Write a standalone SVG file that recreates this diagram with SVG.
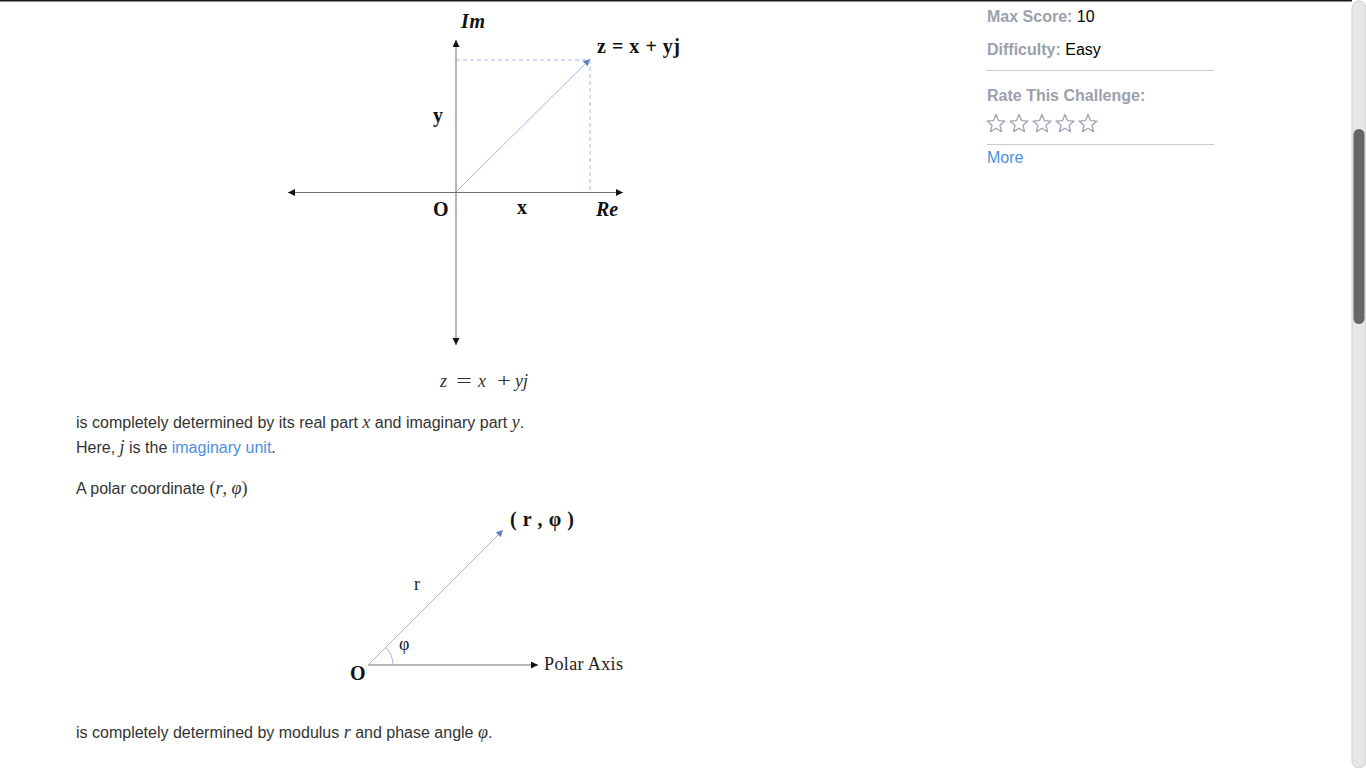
<svg xmlns="http://www.w3.org/2000/svg" xmlns:xlink="http://www.w3.org/1999/xlink" width="1366" height="768" viewBox="0 0 1366 768">
<style>
.axis{stroke:#6e6e6e;stroke-width:1;fill:none}
.vec{stroke:#a3b6e3;stroke-width:1;fill:none}
.dash{stroke:#a9b9e2;stroke-width:1;fill:none;stroke-dasharray:4 3}
.lbl{font-family:"Liberation Serif","DejaVu Serif",serif;font-weight:bold;font-size:20px;fill:#111}
.lbli{font-family:"Liberation Serif","DejaVu Serif",serif;font-weight:bold;font-style:italic;font-size:20px;fill:#111}
.reg{font-family:"Liberation Serif","DejaVu Serif",serif;font-size:18px;fill:#222}
.p{font-family:"Liberation Sans",Arial,sans-serif;font-size:16px;fill:#333}
.m{font-family:"Liberation Serif","DejaVu Serif",serif;font-style:italic;font-size:18px}
.mu{font-family:"Liberation Serif","DejaVu Serif",serif;font-size:18px}
.side{font-family:"Liberation Sans",Arial,sans-serif;font-size:16px;fill:#000}
.sideb{font-weight:bold;fill:#9ca0ab}
.link{fill:#4a90e2}
.hr{stroke:#c8ccd2;stroke-width:1}
.star{fill:none;stroke:#9ca3b0;stroke-width:1.3;stroke-linejoin:round}
</style>
<defs>
<marker id="ah" markerUnits="userSpaceOnUse" markerWidth="8" markerHeight="8" refX="7" refY="3.5" orient="auto">
<path d="M0,0 L7,3.5 L0,7 Z" fill="#111"/>
</marker>
<marker id="ab" markerUnits="userSpaceOnUse" markerWidth="8" markerHeight="8" refX="7" refY="3.5" orient="auto">
<path d="M0,0 L7,3.5 L0,7 Z" fill="#5a7ec8"/>
</marker>
<polygon id="star" points="0,-9.5 2.47,-3.4 9.04,-2.94 3.99,1.3 5.58,7.69 0,4.2 -5.58,7.69 -3.99,1.3 -9.04,-2.94 -2.47,-3.4"/>
</defs>
<rect width="1366" height="768" fill="#fff"/>
<rect x="0" y="0" width="1352" height="1.5" fill="#1a1a1a"/>

<g id="connectors">
<line class="axis" x1="456" y1="192.5" x2="623" y2="192.5" marker-end="url(#ah)"/>
<line class="axis" x1="456" y1="192.5" x2="288" y2="192.5" marker-end="url(#ah)"/>
<line class="axis" x1="456" y1="192.5" x2="456" y2="40" marker-end="url(#ah)"/>
<line class="axis" x1="456" y1="192.5" x2="456" y2="345" marker-end="url(#ah)"/>
<line class="dash" x1="456" y1="60" x2="590" y2="60"/>
<line class="dash" x1="590" y1="60" x2="590" y2="192"/>
<line class="vec" x1="456" y1="192" x2="590" y2="59" marker-end="url(#ab)"/>
<line class="axis" x1="368" y1="665" x2="538" y2="665" marker-end="url(#ah)"/>
<line class="vec" x1="368" y1="665" x2="503" y2="530" marker-end="url(#ab)"/>
<path class="vec" d="M393,665 A25,25 0 0 0 385.7,647.3"/>
</g>

<g id="cartesian-labels">
<text class="lbli" x="461" y="28" textLength="24">Im</text>
<text class="lbl" x="597" y="53" textLength="83" lengthAdjust="spacing">z = x + yj</text>
<text class="lbl" x="433" y="122">y</text>
<text class="lbl" x="433" y="216">O</text>
<text class="lbl" x="517" y="214">x</text>
<text class="lbli" x="596" y="216" font-size="21">Re</text>
</g>

<g id="caption" fill="#333">
<text class="m" x="440" y="387" font-size="21">z</text>
<text class="mu" x="456" y="387" font-size="22" textLength="16" lengthAdjust="spacingAndGlyphs">=</text>
<text class="m" x="478" y="387" font-size="21">x</text>
<text class="mu" x="497" y="387" font-size="22" textLength="14" lengthAdjust="spacingAndGlyphs">+</text>
<text class="m" x="515" y="387" font-size="21">yj</text>
</g>

<g id="paragraph1">
<text class="p" x="76" y="428">is completely determined by its real part <tspan class="m">x</tspan> and imaginary part <tspan class="m">y</tspan>.</text>
<text class="p" x="76" y="453">Here, <tspan class="m">j</tspan> is the <tspan class="link">imaginary unit</tspan>.</text>
<text class="p" x="76" y="494">A polar coordinate <tspan class="mu">(</tspan><tspan class="m">r</tspan><tspan class="mu">, </tspan><tspan class="m">φ</tspan><tspan class="mu">)</tspan></text>
</g>

<g id="polar-labels">
<text class="lbl" x="510" y="526" font-size="19" textLength="64" lengthAdjust="spacing">( r , φ )</text>
<text class="reg" x="414" y="590">r</text>
<text class="reg" x="399" y="650" font-size="17">φ</text>
<text class="lbl" x="350" y="680" font-size="19">O</text>
<text class="reg" x="544" y="670" textLength="79">Polar Axis</text>
</g>

<g id="paragraph2">
<text class="p" x="76" y="738">is completely determined by modulus <tspan class="m">r</tspan> and phase angle <tspan class="m">φ</tspan>.</text>
</g>

<g id="sidebar">
<text class="side" x="987" y="22"><tspan class="sideb">Max Score:</tspan> 10</text>
<text class="side" x="987" y="55"><tspan class="sideb">Difficulty:</tspan> Easy</text>
<line class="hr" x1="987" y1="70.5" x2="1214" y2="70.5"/>
<text class="side sideb" x="987" y="101">Rate This Challenge:</text>
<use xlink:href="#star" class="star" x="996" y="124"/>
<use xlink:href="#star" class="star" x="1019" y="124"/>
<use xlink:href="#star" class="star" x="1042" y="124"/>
<use xlink:href="#star" class="star" x="1065" y="124"/>
<use xlink:href="#star" class="star" x="1088" y="124"/>
<line class="hr" x1="987" y1="144.5" x2="1214" y2="144.5"/>
<text class="side link" x="987" y="163" font-size="15">More</text>
</g>

<g id="scrollbar">
<rect x="1352" y="1" width="14" height="767" rx="7" fill="#e6e6e6" stroke="#cfcfcf" stroke-width="1"/>
<rect x="1353.5" y="129" width="11" height="195" rx="5.5" fill="#666"/>
</g>
</svg>
